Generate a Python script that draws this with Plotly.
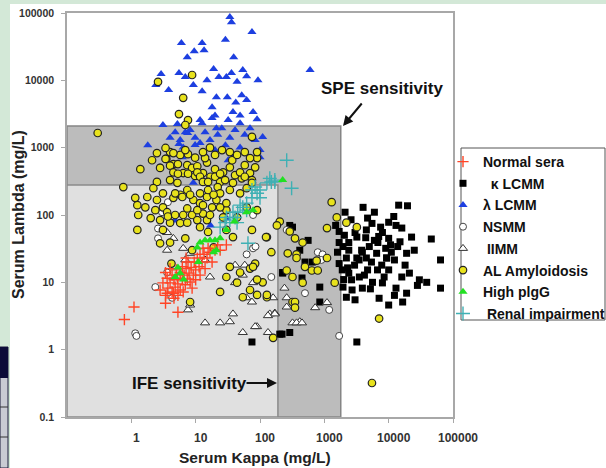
import plotly.graph_objects as go

# ---------------- data (serum kappa, serum lambda) in mg/L ----------------
NORMAL_SERA = [(2.8,7.7),(3.1,9.8),(3.4,6.4),(3.6,11.5),(3.7,8.2),(4.0,9.8),(4.3,12.8),(4.3,7.2),
    (4.6,10.9),(4.8,8.5),(5.0,15.3),(5.2,11.5),(5.3,9.5),(5.75,14),(5.75,7.7),(6.2,17),(6.2,10.9),
    (6.6,12.8),(6.9,9.2),(7.1,16),(7.4,11.2),(7.6,20),(7.9,13.7),(8.2,10.1),(8.5,16.6),(9.2,12.8),
    (9.5,20),(10,15.3),(10.6,23),(11.3,17),(11.7,12.8),(12.6,20),(13.5,26),(14,16),(15,23),(16.7,28),
    (18,20),(20,30),(4.0,16),(5.3,6.4),(6.4,7.2),(3.4,14),(8.8,8.2),(7.1,23),(10,10.9),(4.6,5.8),
    (15.6,32),(22,36),(0.78,2.8),(1.1,4.3),(3.4,4.9),(5.3,3.6),(4.5,6.9),(3.6,6.9),(30,36),(24,30),
    (13,32),(11.7,26)]

KAPPA_LCMM = [(14300,140),(19600,137),(2100,110),(4700,90),(7500,66),(10000,78),(13000,70),(16000,64),
    (22700,47),(46000,44),(64000,21.5),(64000,8.2),(39000,10),(28000,9),(16500,5.1),(10000,4.6),
    (7100,5.8),(3200,1.3),(1700,57),(1700,39),(2400,39),(3200,47),(4500,60),(6000,42),(8000,55),
    (10000,45),(13800,34),(19000,27),(12300,21.5),(9300,23),(6500,27),(4500,23),(3200,23),(2200,23),
    (1700,19),(1900,15.3),(2400,13.7),(3500,12),(4700,15.3),(6700,15.3),(10000,15.3),(16000,12),
    (21000,13.7),(30000,10.9),(8000,9.8),(5600,10),(3900,8.2),(2700,7.7),(1950,8.5),(2200,6),
    (13000,8.2),(19000,6.9),(5000,34),(3900,28),(2400,30),(1950,34),(290,70),(560,42),(415,30),
    (650,20),(850,8.5),(450,11.6),(225,14),(220,1.7),(290,1.8),(75,1.3),(850,5.1),(500,20),(320,66),
    (225,13.7),(203,1.7),(3470,21.5),(4200,12.8),(2950,18),(5400,20),(7800,18),(2300,16.4),(3800,30),
    (10700,36),(6800,39),(4400,46),(2050,50),(9300,23),(2650,10.9),(12300,6.4),(1500,70),(2600,85),
    (3000,55),(5500,75),(7000,48),(9000,32),(11000,28),(15000,40),(25000,30),(18000,18),(8500,12),
    (5200,8),(3000,5.5),(2000,11),(1600,28),(12000,95),(6000,110),(4000,130)]

LAMBDA_LCMM = [(34,87000),(36,73000),(75,52000),(6,36000),(12.6,36000),(13.5,28000),(29,40000),
    (9.5,27000),(7.4,22000),(39,22000),(600,14200),(2.9,12400),(2.4,8500),(3.8,7200),(5.5,12800),
    (6.9,11200),(9.2,8500),(12.6,6900),(15,10000),(19,14700),(23,11200),(30,11200),(36,12800),
    (44,9500),(54,14200),(62,11500),(93,10000),(21,5600),(31,5600),(42,4700),(52,6000),(62,5100),
    (18,4000),(38,3400),(78,3400),(18,2750),(32,2570),(90,2650),(3.1,2170),(5.2,2250),(12.6,2300),
    (21,1950),(49,2300),(110,1440),(1.8,1090),(5.5,1130),(6.4,1010),(11.7,1170),(29,1090),(49,1010),
    (6.2,720),(32,650),(100,720),(9.2,300),(30,90),(17,70),(4.8,83),(6.9,1700),(5.75,1300),(7.5,1650),
    (8.2,1830),(9.8,1400),(14,1700),(16.7,1300),(22,1550),(25.5,1950),(34,1400),(41,1830),(58,1550),
    (70,1950),(84,1300),(4,1400),(4.8,1700),(20,920),(41,780),(14,780),(11.7,2570),(20,3000),
    (49,3000),(100,920),(9.8,1100)]

NSMM = [(2.8,510),(3.7,155),(2.6,63),(2.36,8.5),(3.6,14),(4.3,5.9),(1.15,1.75),(78,32),(150,12),
    (500,6.9),(8.2,420),(790,28),(940,26),(900,21.5),(1190,3.9),(1700,1.6),(78,100),(1.2,1.6),
    (3.0,110),(2.6,45),(62,26),(85,34),(260,60)]

IIMM = [(6.4,32),(8.2,27),(6.9,21.5),(3.6,30),(14,21.5),(16.7,12),(7.6,3.9),(14,2.5),(24,2.5),
    (34,2.6),(38,3.4),(54,1.8),(90,2.2),(142,3.4),(170,3.5),(62,5.9),(75,5.1),(41,18),(58,18),
    (75,17),(41,9.9),(54,12.8),(78,9.9),(160,5.9),(415,2.6),(320,2.5),(84,2.2),(133,1.8),(170,3.4),
    (260,4.3),(240,8.2),(260,5.9),(370,2.5),(450,2.5),(720,4.2),(1100,5),(133,3.2),(8.2,4.6),
    (3.6,55),(4.5,45)]

AL_AMYLOIDOSIS = [(0.3,1650),(2.6,9500),(8.8,12000),(6.4,5500),(5.5,3150),(7.6,2570),(6.9,2170),
    (3.5,680),(75,1450),(0.75,260),(1.38,480),(2.8,500),(3.4,680),(4.5,570),(5.3,570),(7.4,550),
    (8.8,500),(10.6,530),(15,600),(20,480),(26.7,430),(34,510),(58,550),(70,420),(90,700),(75,330),
    (52,350),(38,300),(24,310),(17,370),(13,420),(9.8,380),(6.4,420),(5.2,300),(4,330),(2.5,310),
    (1.24,140),(1.15,180),(1.77,185),(2.5,167),(3.1,130),(4.5,180),(5.75,200),(7.4,235),(9.2,167),
    (11.7,150),(15,185),(18,130),(21,167),(30,118),(13,105),(8.8,100),(6.4,100),(3.6,110),(2.8,84),
    (4,77),(1.28,100),(1.24,60),(3.1,60),(5.75,76),(10.6,84),(15,84),(6.9,45),(4,39),(2.8,38),
    (8.8,30),(19,33),(34,17),(49,14),(70,16),(84,19),(128,47),(203,80),(75,60),(4.2,19),(8.2,5.1),
    (24,7.2),(44,9.9),(30,12),(54,6),(70,7.7),(128,6),(320,5.1),(370,26),(260,15),(183,70),(110,10),
    (2.1,650),(4,860),(5.75,780),(7.6,800),(14,700),(20,780),(25.7,920),(37,650),(44,780),(58,860),
    (84,510),(22,260),(15.6,235),(34,235),(49,210),(62,130),(44,92),(90,118),(1300,155),(1560,92),
    (2200,77),(3200,66),(1100,64),(124,47),(150,28),(290,57),(350,45),(460,39),(270,27),(370,23),
    (500,17),(760,21),(1100,23),(640,15),(790,15),(320,12),(1450,9.9),(350,5.1),(350,4.2),(160,1.5),
    (7100,2.9),(90,11),(78,17),(128,6.5),(90,6.5),(460,9.9),(5500,0.32),
    (4.0,540),(4.5,430),(5.3,410),(7.6,410),(10.6,430),(11.7,370),(13,310),(15.6,310),(20,370),
    (24,410),(28.7,330),(41,390),(49,430),(58,370),(75,300),(62,250),(24,210),(19,200),(11.7,210),
    (8.2,200),(6.2,185),(4.8,210),(3.1,210),(2.2,250),(1.65,130),(2.0,90),(2.36,118),(3.7,95),
    (4.8,100),(7.4,125),(10.6,118),(13,140),(16.7,100),(26.7,92),(30,150),(24,130),(7.4,77),
    (11.7,66),(15.6,56),(30,60),(38,47),(3.4,990),(4.5,830),(6.9,920),(9.8,710),(13,860),
    (16.7,1000),(34,860),(70,700),(90,860),(2.5,830)]

HIGH_PIGG = [(225,330),(78,118),(62,110),(24,45),(20,42),(16.7,42),(14,42),(11.7,39),(21,30),(19,28),
    (10.6,33),(5.75,13.7),(5.3,16.6),(4.8,12),(11,20),(30,60),(40,80),(6.5,11)]

RENAL = [(260,650),(310,250),(150,310),(128,300),(170,310),(100,235),(90,210),(75,180),(62,150),
    (54,130),(45,110),(41,92),(34,84),(28.7,77),(24,66),(65,38),(49,140),(38,110),(30,92),(75,235),
    (62,118),(84,260),(44,77),(142,350),(170,330),(100,180)]

# sensitivity thresholds (mg/L)
SPE_KAPPA, SPE_LAMBDA = 1800, 2100
IFE_KAPPA, IFE_LAMBDA = 190, 280

X_TICKS = [1, 10, 100, 1000, 10000, 100000]
Y_TICKS = [0.1, 1, 10, 100, 1000, 10000, 100000]

# ---------------- figure ----------------
W, H = 606, 468
def px(x): return x / W
def py(y): return 1 - y / H

FONT = "Liberation Sans, Arial, sans-serif"

fig = go.Figure()

def add(data, name, rank, marker):
    xs, ys = zip(*data)
    fig.add_trace(go.Scatter(x=list(xs), y=list(ys), mode="markers", name=name,
                             legendrank=rank, legendgroup=name, marker=marker))

add(LAMBDA_LCMM, "λ LCMM", 3, dict(symbol="triangle-up", size=8, color="#1d3fe0", line=dict(width=0)))
add(KAPPA_LCMM, "  κ LCMM", 2, dict(symbol="square", size=7, color="#000000", line=dict(width=0)))
add(NSMM, "NSMM", 4, dict(symbol="circle", size=7, color="white", line=dict(color="#444", width=1)))
add(IIMM, " IIMM", 5, dict(symbol="triangle-up", size=8, color="white", line=dict(color="#333", width=1)))
add(AL_AMYLOIDOSIS, "AL Amyloidosis", 6, dict(symbol="circle", size=7.5, color="#e8e21c", line=dict(color="#222", width=1.2)))
add(NORMAL_SERA, "Normal sera", 1, dict(symbol="cross-thin", size=8, color="#ff4426", line=dict(color="#ff4426", width=1.4)))
add(RENAL, " Renal impairment", 8, dict(symbol="cross-thin", size=10, color="#3fb0b4", line=dict(color="#3fb0b4", width=1.4)))
add(HIGH_PIGG, "High plgG", 7, dict(symbol="triangle-up", size=8, color="#22e022", line=dict(width=0)))

shapes = [
    # slide background strips
    dict(type="rect", xref="paper", yref="paper", x0=0, x1=1, y0=py(4), y1=1,
         fillcolor="#d3e8d7", line=dict(width=0), layer="below"),
    dict(type="rect", xref="paper", yref="paper", x0=0, x1=px(10), y0=0, y1=1,
         fillcolor="#d3e8d7", line=dict(width=0), layer="below"),
    dict(type="rect", xref="paper", yref="paper", x0=0, x1=px(8), y0=py(468), y1=py(347),
         fillcolor="#c9cbd3", line=dict(color="#1a1a3a", width=1), layer="above"),
    dict(type="rect", xref="paper", yref="paper", x0=0, x1=px(8), y0=py(378), y1=py(347),
         fillcolor="#0c0c38", line=dict(width=0), layer="above"),
    dict(type="line", xref="paper", yref="paper", x0=0, x1=px(8), y0=py(407), y1=py(407),
         line=dict(color="#333", width=1)),
    dict(type="line", xref="paper", yref="paper", x0=0, x1=px(8), y0=py(437), y1=py(437),
         line=dict(color="#333", width=1)),
    # sensitivity regions
    dict(type="rect", xref="x", yref="y", x0=0.1, x1=SPE_KAPPA, y0=0.1, y1=SPE_LAMBDA,
         fillcolor="#bcbcbc", line=dict(color="#858585", width=1.5), layer="below"),
    dict(type="rect", xref="x", yref="y", x0=0.1, x1=IFE_KAPPA, y0=0.1, y1=IFE_LAMBDA,
         fillcolor="#e0e0e0", line=dict(color="#8a8a8a", width=1.5), layer="below"),
    # legend box
    dict(type="rect", xref="paper", yref="paper", x0=px(461), x1=px(605), y0=py(320), y1=py(148),
         fillcolor="rgba(0,0,0,0)", line=dict(color="#555", width=1)),
]

def note(x, y, text, size, **kw):
    d = dict(xref="paper", yref="paper", x=px(x), y=py(y), text=text, showarrow=False,
             xanchor="center", yanchor="middle",
             font=dict(family=FONT, size=size, color="#111"))
    d.update(kw)
    return d

annotations = [
    note(382, 88, "<b>SPE sensitivity</b>", 17),
    dict(xref="paper", yref="paper", x=px(343), y=py(126), text="", showarrow=True,
         ax=20, ay=-24, arrowhead=2, arrowsize=1, arrowwidth=2, arrowcolor="#111"),
    note(189, 383, "<b>IFE sensitivity</b>", 17),
    dict(xref="paper", yref="paper", x=px(277), y=py(383), text="", showarrow=True,
         ax=-32, ay=0, arrowhead=2, arrowsize=1, arrowwidth=2, arrowcolor="#111"),
    note(255, 457, "<b>Serum Kappa (mg/L)</b>", 15.5, font=dict(family=FONT, size=15.5, color="#222")),
    note(19, 215, "<b>Serum Lambda (mg/L)</b>", 16, textangle=-90,
         font=dict(family=FONT, size=16, color="#222")),
]

axis_common = dict(type="log", range=[-1, 5], showgrid=False, zeroline=False,
                   showline=True, linecolor="#a8a8a8", linewidth=1.5, mirror=True,
                   ticks="outside", ticklen=4, tickcolor="#a8a8a8")

fig.update_layout(
    width=W, height=H, autosize=False,
    margin=dict(l=0, r=0, t=0, b=0, autoexpand=False),
    paper_bgcolor="white", plot_bgcolor="white",
    xaxis=dict(domain=[px(67), px(453)], tickvals=X_TICKS,
               ticktext=[f"{v:g}" for v in X_TICKS], ticklabelstandoff=5,
               ticklabelshift=5,
               tickfont=dict(family=FONT, size=12, color="#333", weight="bold"), **axis_common),
    yaxis=dict(domain=[py(417), py(13)], tickvals=Y_TICKS,
               ticktext=[f"{v:g}" for v in Y_TICKS], ticklabelstandoff=5,
               tickfont=dict(family=FONT, size=10.5, color="#333", weight="bold"), **axis_common),
    shapes=shapes, annotations=annotations,
    showlegend=True,
    legend=dict(x=px(443), y=py(146), xanchor="left", yanchor="top",
                bgcolor="rgba(0,0,0,0)", borderwidth=0, tracegroupgap=0.5,
                font=dict(family=FONT, size=14, color="#111", weight="bold")),
)

fig.write_html("out.html")
